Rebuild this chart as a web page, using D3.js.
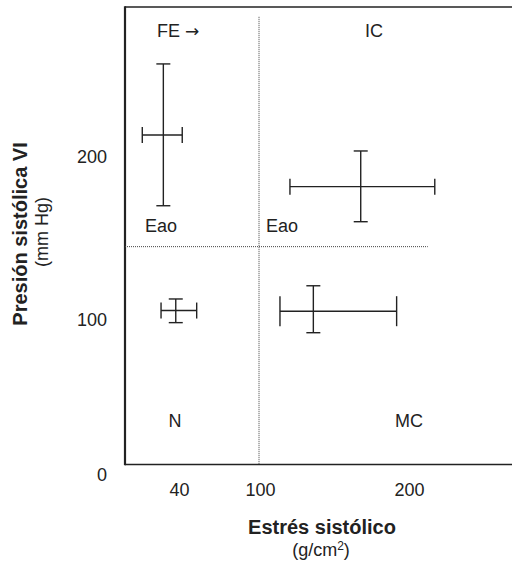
<!DOCTYPE html>
<html>
<head>
<meta charset="utf-8">
<script src="https://cdn.jsdelivr.net/npm/d3@7"></script>
<style>
  html, body { margin: 0; padding: 0; background: #fff; }
  svg { display: block; font-family: "Liberation Sans", Arial, Helvetica, sans-serif; }
</style>
</head>
<body>
<svg id="chart" width="512" height="567"></svg>
<script>
// ---- data ----
const groups = ["FE", "IC", "N", "MC"];
const stressMean = [28.4, 167.6, 37.6, 135.8];
const stressLow  = [12.8, 120.1, 26.7, 113.4];
const stressHigh = [42.4, 217.3, 53.1, 191.7];
const pressMean  = [213.5, 181.8, 105.8, 105.4];
const pressLow   = [170.1, 160.3, 98.3, 91.8];
const pressHigh  = [257.1, 203.7, 112.9, 121.0];

const xTicks = [40, 100, 200];
const yTicks = [0, 100, 200];

const stressThreshold = 100;   // vertical dotted divider
const pressThreshold = 145;    // horizontal dotted divider
const hLineEnd = 212.6;        // extent of horizontal divider (stress units)
const vLineTop = 286;          // extent of vertical divider (pressure units)

const regionLabels = ["FE", "IC", "Eao", "Eao", "N", "MC"];
const regionArrow  = [true, false, false, false, false, false];
const regionX = [23.7, 176.5, 26.7, 104, 37, 200];
const regionY = [273.6, 273.6, 154, 154, 31, 31];
const regionAnchor = ["start", "middle", "middle", "start", "middle", "middle"];

// ---- layout / style ----
const frame = { left: 125, top: 7, bottom: 464.5, right: 512 };
const ink = "#222";
const hCapByGroup = { FE: 8, IC: 8, N: 8, MC: 15 };
const vCap = 7;
const fontFam = '"Liberation Sans", Arial, Helvetica, sans-serif';

const svg = d3.select("#chart");

const x = d3.scaleLinear().domain([0, 40, 100, 200]).range([125, 179, 260, 409]);
const y = d3.scaleLinear().domain([0, 100, 200]).range([475, 320, 157]);

// frame: left, top, bottom
svg.append("line").attr("x1", frame.left).attr("x2", frame.left)
  .attr("y1", frame.top - 0.75).attr("y2", frame.bottom + 0.75)
  .attr("stroke", ink).attr("stroke-width", 2.2);
svg.append("line").attr("x1", frame.left).attr("x2", frame.right)
  .attr("y1", frame.top).attr("y2", frame.top)
  .attr("stroke", ink).attr("stroke-width", 1.6);
svg.append("line").attr("x1", frame.left).attr("x2", frame.right)
  .attr("y1", frame.bottom).attr("y2", frame.bottom)
  .attr("stroke", ink).attr("stroke-width", 1.6);

// dotted dividers
svg.append("line")
  .attr("x1", x(stressThreshold) - 1).attr("x2", x(stressThreshold) - 1)
  .attr("y1", y(vLineTop)).attr("y2", frame.bottom)
  .attr("stroke", "#444").attr("stroke-width", 1).attr("stroke-dasharray", "1,1");
svg.append("line")
  .attr("x1", frame.left).attr("x2", x(hLineEnd))
  .attr("y1", y(pressThreshold)).attr("y2", y(pressThreshold))
  .attr("stroke", "#444").attr("stroke-width", 1).attr("stroke-dasharray", "1,1");

// axes (labels only)
const yAxis = svg.append("g").attr("transform", `translate(${frame.left},0)`)
  .call(d3.axisLeft(y).tickValues(yTicks).tickSize(0).tickPadding(18));
yAxis.select(".domain").remove();
yAxis.selectAll("text").attr("font-size", 18).attr("fill", ink).attr("font-family", fontFam);

const xAxis = svg.append("g").attr("transform", `translate(0,${frame.bottom})`)
  .call(d3.axisBottom(x).tickValues(xTicks).tickSize(0).tickPadding(19));
xAxis.select(".domain").remove();
xAxis.selectAll("text").attr("font-size", 18).attr("fill", ink).attr("font-family", fontFam);

// error crosses
const data = groups.map((g, i) => ({
  g, xm: stressMean[i], xl: stressLow[i], xh: stressHigh[i],
  ym: pressMean[i], yl: pressLow[i], yh: pressHigh[i]
}));

const cross = svg.append("g").attr("stroke", ink).attr("stroke-width", 1.4).attr("fill", "none");
data.forEach(d => {
  const g = cross.append("g");
  const hc = hCapByGroup[d.g];
  // vertical bar
  g.append("line").attr("x1", x(d.xm)).attr("x2", x(d.xm)).attr("y1", y(d.yh)).attr("y2", y(d.yl));
  g.append("line").attr("x1", x(d.xm) - vCap).attr("x2", x(d.xm) + vCap).attr("y1", y(d.yh)).attr("y2", y(d.yh));
  g.append("line").attr("x1", x(d.xm) - vCap).attr("x2", x(d.xm) + vCap).attr("y1", y(d.yl)).attr("y2", y(d.yl));
  // horizontal bar
  g.append("line").attr("x1", x(d.xl)).attr("x2", x(d.xh)).attr("y1", y(d.ym)).attr("y2", y(d.ym));
  g.append("line").attr("x1", x(d.xl)).attr("x2", x(d.xl)).attr("y1", y(d.ym) - hc).attr("y2", y(d.ym) + hc);
  g.append("line").attr("x1", x(d.xh)).attr("x2", x(d.xh)).attr("y1", y(d.ym) - hc).attr("y2", y(d.ym) + hc);
});

// region labels
const rl = svg.append("g").selectAll("text").data(regionLabels).join("text")
  .attr("x", (d, i) => x(regionX[i]))
  .attr("y", (d, i) => y(regionY[i]))
  .attr("text-anchor", (d, i) => regionAnchor[i])
  .attr("font-size", 18).attr("fill", ink);
rl.append("tspan").text(d => d);
rl.filter((d, i) => regionArrow[i]).append("tspan")
  .attr("font-family", '"DejaVu Sans", sans-serif').attr("font-size", 17)
  .attr("dx", 5).text("\u2192");

// axis titles
svg.append("text").attr("x", 322).attr("y", 534).attr("text-anchor", "middle")
  .attr("font-size", 20).attr("font-weight", "bold").attr("fill", ink)
  .text("Estrés sistólico");
const xt2 = svg.append("text").attr("x", 321).attr("y", 556).attr("text-anchor", "middle")
  .attr("font-size", 18).attr("fill", ink);
xt2.append("tspan").text("(g/cm");
xt2.append("tspan").attr("font-size", 12).attr("dy", -6).text("2");
xt2.append("tspan").attr("dy", 6).text(")");

svg.append("text").attr("transform", "translate(27,234) rotate(-90)")
  .attr("text-anchor", "middle").attr("font-size", 20).attr("font-weight", "bold").attr("fill", ink)
  .text("Presión sistólica VI");
svg.append("text").attr("transform", "translate(48,232) rotate(-90)")
  .attr("text-anchor", "middle").attr("font-size", 18).attr("fill", ink)
  .text("(mm Hg)");
</script>
</body>
</html>
